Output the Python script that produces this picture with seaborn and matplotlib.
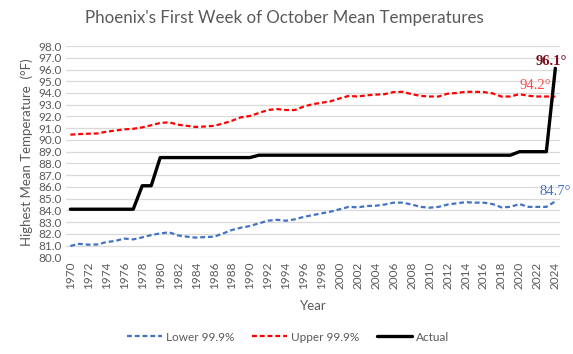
import matplotlib
matplotlib.use("Agg")
import matplotlib.pyplot as plt
import seaborn as sns
import pandas as pd

# data
years = list(range(1970, 2025))
lower = [80.97, 81.15, 81.08, 81.10, 81.30, 81.40, 81.60, 81.53, 81.70, 81.90,
         82.04, 82.13, 81.87, 81.76, 81.68, 81.73, 81.76, 82.04, 82.33, 82.53,
         82.67, 82.90, 83.12, 83.20, 83.12, 83.24, 83.45, 83.60, 83.75, 83.90,
         84.10, 84.30, 84.26, 84.37, 84.40, 84.50, 84.66, 84.66, 84.50, 84.30,
         84.23, 84.30, 84.50, 84.60, 84.70, 84.66, 84.66, 84.54, 84.26, 84.30,
         84.54, 84.30, 84.30, 84.30, 84.77]
upper = [90.45, 90.50, 90.53, 90.55, 90.70, 90.80, 90.90, 90.95, 91.07, 91.25,
         91.45, 91.50, 91.30, 91.20, 91.10, 91.15, 91.20, 91.40, 91.64, 91.93,
         92.04, 92.30, 92.55, 92.63, 92.55, 92.55, 92.85, 93.05, 93.17, 93.30,
         93.54, 93.75, 93.70, 93.80, 93.86, 93.90, 94.08, 94.10, 93.90, 93.75,
         93.70, 93.70, 93.94, 94.00, 94.10, 94.10, 94.08, 93.97, 93.70, 93.70,
         93.90, 93.76, 93.70, 93.70, 93.70]
actual = [84.1] * 8 + [86.1] * 2 + [88.5] * 11 + [88.7] * 29 + [89.0] * 4 + [96.1]

df = pd.DataFrame({"Year": years, "Lower 99.9%": lower,
                   "Upper 99.9%": upper, "Actual": actual})

sns.set_style("white")
plt.rcParams['font.family'] = ['Lato', 'DejaVu Sans']

grey = "#595959"
fig = plt.figure(figsize=(5.73, 3.54), dpi=100)
ax = fig.add_axes([0.115, 0.273, 0.862, 0.597])

sns.lineplot(data=df, x="Year", y="Lower 99.9%", ax=ax, color="#4472C4",
             linewidth=1.6, label="Lower 99.9%")
sns.lineplot(data=df, x="Year", y="Upper 99.9%", ax=ax, color="#FF0000",
             linewidth=1.6, label="Upper 99.9%")
sns.lineplot(data=df, x="Year", y="Actual", ax=ax, color="black",
             linewidth=2.4, label="Actual")
ax.lines[0].set_dashes((2.2, 1.3))
ax.lines[1].set_dashes((2.2, 1.3))

ax.set_xlim(1969.5, 2024.5)
ax.set_ylim(80, 98)
ax.set_yticks(range(80, 99))
ax.set_yticklabels([f"{v:.1f}" for v in range(80, 99)], fontsize=8.5, color=grey)
ax.set_xticks(years[::2])
ax.set_xticklabels([str(y) for y in years[::2]], rotation=90, fontsize=8.5, color=grey)
ax.tick_params(length=0, pad=3)
ax.yaxis.grid(True, color="#D9D9D9", linewidth=0.9)
for s in ax.spines.values():
    s.set_visible(False)

ax.set_xlabel("Year", fontsize=9.5, color=grey, labelpad=8)
ax.set_ylabel("Highest Mean Temperature  (°F)", fontsize=9.5, color=grey, labelpad=4)
fig.suptitle("Phoenix's First Week of October Mean Temperatures", fontsize=12.2,
             color=grey, x=0.497, y=0.972)

# end-of-series annotations
ax.text(2023.6, 96.64, "96.1°", family="Liberation Serif", fontsize=10.5,
        fontweight="bold", color="#7B0C1E", ha="center", va="center", clip_on=False)
ax.text(2021.8, 94.64, "94.2°", family="Liberation Serif", fontsize=10.5,
        color="#FF4B4B", ha="center", va="center", clip_on=False)
ax.text(2024.0, 85.65, "84.7°", family="Liberation Serif", fontsize=10.5,
        color="#4472C4", ha="center", va="center", clip_on=False)

leg = ax.legend(loc="center", bbox_to_anchor=(0.502, 0.048), bbox_transform=fig.transFigure,
                ncol=3, frameon=False, fontsize=8.5, handlelength=3.0,
                handletextpad=0.3, columnspacing=1.5)
for t in leg.get_texts():
    t.set_color(grey)

fig.savefig("out.png", dpi=100)
